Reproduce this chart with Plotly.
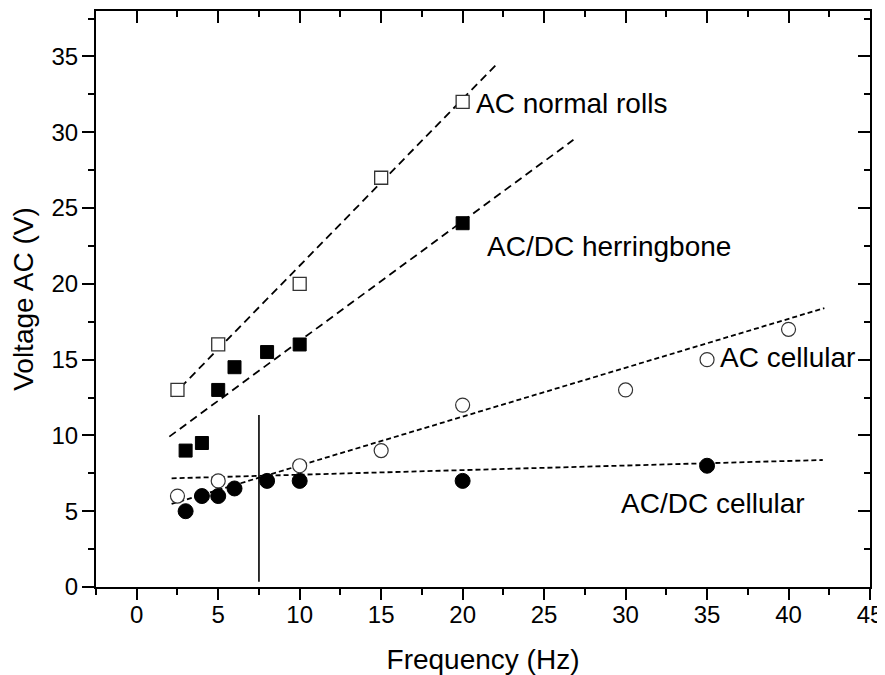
import plotly.graph_objects as go

# ---- data ----
rolls_x = [2.5, 5, 10, 15, 20]
rolls_y = [13, 16, 20, 27, 32]

herr_x = [3, 4, 5, 6, 8, 10, 20]
herr_y = [9, 9.5, 13, 14.5, 15.5, 16, 24]

accell_x = [2.5, 5, 10, 15, 20, 30, 35, 40]
accell_y = [6, 7, 8, 9, 12, 13, 15, 17]

dccell_x = [3, 4, 5, 6, 8, 10, 20, 35]
dccell_y = [5, 6, 6, 6.5, 7, 7, 7, 8]

# fitted lines (end points)
rolls_fit_x = [2.14, 22.1]
rolls_fit_y = [12.56, 34.5]
herr_fit_x = [2.0, 26.8]
herr_fit_y = [9.92, 29.5]
accell_fit_x = [2.14, 42.2]
accell_fit_y = [5.48, 18.4]
dccell_fit_x = [2.14, 42.1]
dccell_fit_y = [7.17, 8.38]

vline_x = [7.5, 7.5]
vline_y = [0.35, 11.35]

labels = ["AC normal rolls", "AC/DC herringbone", "AC cellular", "AC/DC cellular"]
label_x = [20.7, 21.4, 35.7, 29.6]
label_y = [31.9, 22.45, 15.15, 5.5]

x_range = [-2.5, 45]
y_range = [0, 38]

FONT = "Arial, Liberation Sans, sans-serif"

fig = go.Figure()

long_dash = "8px,5px"
short_dash = "5px,3px"

for fx, fy, dash in [(rolls_fit_x, rolls_fit_y, long_dash),
                     (herr_fit_x, herr_fit_y, long_dash),
                     (accell_fit_x, accell_fit_y, short_dash),
                     (dccell_fit_x, dccell_fit_y, short_dash)]:
    fig.add_trace(go.Scatter(x=fx, y=fy, mode="lines",
                             line=dict(color="black", width=1.8, dash=dash),
                             hoverinfo="skip", showlegend=False))

fig.add_trace(go.Scatter(x=vline_x, y=vline_y, mode="lines",
                         line=dict(color="black", width=1.6),
                         hoverinfo="skip", showlegend=False))

fig.add_trace(go.Scatter(x=rolls_x, y=rolls_y, mode="markers",
                         marker=dict(symbol="square", size=13, color="white",
                                     line=dict(color="#333", width=1.3)),
                         showlegend=False))
fig.add_trace(go.Scatter(x=herr_x, y=herr_y, mode="markers",
                         marker=dict(symbol="square", size=13, color="black",
                                     line=dict(color="black", width=1)),
                         showlegend=False))
fig.add_trace(go.Scatter(x=accell_x, y=accell_y, mode="markers",
                         marker=dict(symbol="circle", size=14, color="white",
                                     line=dict(color="#333", width=1.2)),
                         showlegend=False))
fig.add_trace(go.Scatter(x=dccell_x, y=dccell_y, mode="markers",
                         marker=dict(symbol="circle", size=15, color="black",
                                     line=dict(color="black", width=1)),
                         showlegend=False))

# invisible trace for mirror axes
fig.add_trace(go.Scatter(x=[None], y=[None], xaxis="x2", yaxis="y2",
                         mode="markers", showlegend=False, hoverinfo="skip"))

for t, xx, yy in zip(labels, label_x, label_y):
    fig.add_annotation(x=xx, y=yy, xref="x", yref="y", text=t, showarrow=False,
                       xanchor="left", yanchor="middle",
                       font=dict(family=FONT, size=28, color="black"))

common_x = dict(range=x_range, dtick=5, tick0=0, showgrid=False, zeroline=False,
                automargin=False,
                linecolor="black", linewidth=2, tickwidth=2, tickcolor="black",
                minor=dict(dtick=2.5, tick0=0, ticklen=6, tickwidth=2,
                           tickcolor="black", showgrid=False))
common_y = dict(range=y_range, dtick=5, tick0=0, showgrid=False, zeroline=False,
                automargin=False,
                linecolor="black", linewidth=2, tickwidth=2, tickcolor="black",
                minor=dict(dtick=2.5, tick0=0, ticklen=6, tickwidth=2,
                           tickcolor="black", showgrid=False))

# page body has an 8px margin, so the figure is sized to fit the window
fig.update_layout(
    width=877, height=667,
    margin=dict(l=88, r=15, t=3, b=88),
    paper_bgcolor="white", plot_bgcolor="white",
    font=dict(family=FONT, color="black"),
    xaxis=dict(**common_x, showline=True, ticks="outside", ticklen=11,
               minor_ticks="outside",
               tickfont=dict(size=24), ticklabelstandoff=-6,
               title=dict(text="Frequency (Hz)", font=dict(size=28), standoff=24)),
    yaxis=dict(**common_y, showline=True, ticks="outside", ticklen=12,
               minor_ticks="outside",
               tickfont=dict(size=24), ticklabelstandoff=-1,
               title=dict(text="Voltage AC (V)", font=dict(size=28), standoff=22)),
    xaxis2=dict(**common_x, overlaying="x", side="top", anchor="y2",
                showline=True, ticks="inside", ticklen=12, minor_ticks="inside",
                showticklabels=False),
    yaxis2=dict(**common_y, overlaying="y", side="right", anchor="x2",
                showline=True, ticks="inside", ticklen=12, minor_ticks="inside",
                showticklabels=False),
)

fig.write_html("out.html")
